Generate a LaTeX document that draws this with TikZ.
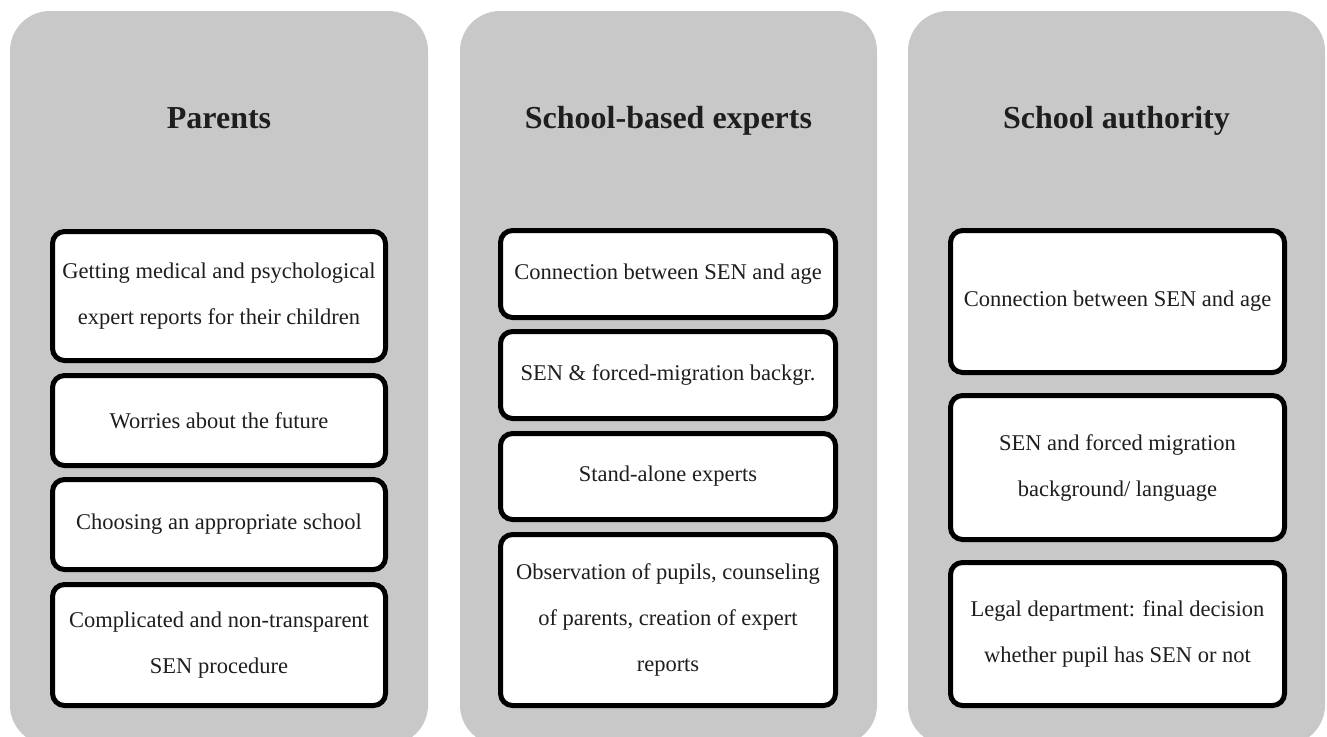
\documentclass[tikz,border=0pt]{standalone}
\usepackage{fontspec}
\setmainfont{Liberation Serif}
\definecolor{panelgrey}{RGB}{200,200,200}
\definecolor{textgrey}{RGB}{30,30,30}
\begin{document}
\begin{tikzpicture}[x=1pt,y=-1pt,
  panel/.style={fill=panelgrey, rounded corners=40pt},
  title/.style={anchor=base, text=textgrey, font=\bfseries\fontsize{32}{34}\selectfont},
  item/.style={draw=black, line width=5pt, rounded corners=12pt, fill=white,
    text=textgrey, align=center, inner sep=0pt, font=\fontsize{22.5}{46}\selectfont},
  itemA/.style={item, minimum width=333pt},
  itemB/.style={item, minimum width=335pt},
  itemC/.style={item, minimum width=334pt}]
\useasboundingbox (0,0) rectangle (1327,736);
\begin{scope}
\clip (0,0) rectangle (1327,736);
\fill[panel] (10,11) rectangle (428,745);
\fill[panel] (460,11) rectangle (877,745);
\fill[panel] (908,11) rectangle (1325,745);
\end{scope}
% titles
\node[title] (t1) at (219,128) {Parents};
\node[title] (t2) at (668.5,128) {School-based experts};
\node[title] (t3) at (1116.5,128) {School authority};
% panel 1
\node[itemA, minimum height=129pt] (a1) at (219,296) {Getting medical and psychological\\expert reports for their children};
\node[itemA, minimum height=90pt] (a2) at (219,420.5) {Worries about the future};
\node[itemA, minimum height=90pt] (a3) at (219,524.5) {Choosing an appropriate school};
\node[itemA, minimum height=121pt] (a4) at (219,645) {Complicated and non-transparent\\SEN procedure};
% panel 2
\node[itemB, minimum height=87pt] (b1) at (668,274) {Connection between SEN and age};
\node[itemB, minimum height=87pt] (b2) at (668,375) {SEN \& forced-migration backgr.};
\node[itemB, minimum height=86pt] (b3) at (668,476.5) {Stand-alone experts};
\node[itemB, minimum height=171pt] (b4) at (668,620) {Observation of pupils, counseling\\of parents, creation of expert\\reports};
% panel 3
\node[itemC, minimum height=142pt] (c1) at (1117.5,301.5) {Connection between SEN and age};
\node[itemC, minimum height=144pt] (c2) at (1117.5,467.5) {SEN and forced migration\\background/ language};
\node[itemC, minimum height=143pt] (c3) at (1117.5,634) {Legal department: final decision\\whether pupil has SEN or not};
\end{tikzpicture}
\end{document}
